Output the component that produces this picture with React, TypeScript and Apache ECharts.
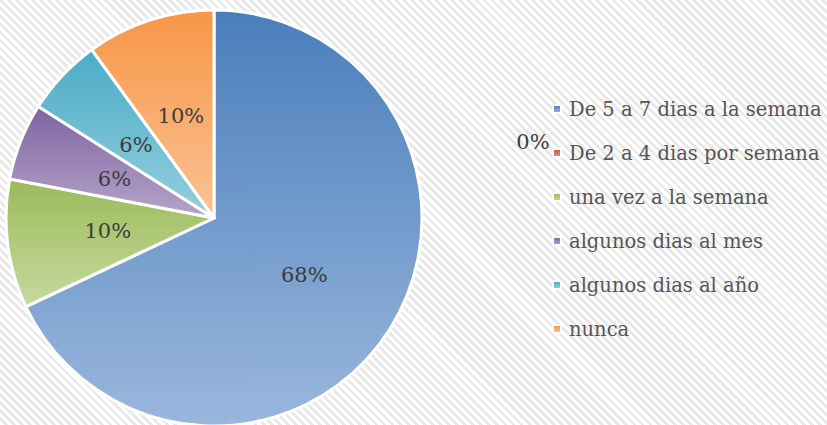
import React, { useEffect, useRef } from "react";
import * as echarts from "echarts";

const categories = [
  "De 5 a 7 dias a la semana",
  "De 2 a 4 dias por semana",
  "una vez a la semana",
  "algunos dias al mes",
  "algunos dias al año",
  "nunca",
];
const values = [34, 0, 5, 3, 3, 5];
const topColors = ["#4a7ebb", "#c0504d", "#9bbb59", "#8064a2", "#4bacc6", "#f79646"];
const bottomColors = ["#9ab7dd", "#d99694", "#c6d9a0", "#b5a5c9", "#95cfdf", "#fbc293"];

export default function App() {
  const ref = useRef<HTMLDivElement>(null);
  useEffect(() => {
    document.body.style.margin = "0";
    const chart = echarts.init(ref.current!, undefined, { renderer: "svg" });
    const fontFamily = "'DejaVu Serif', serif";
    chart.setOption({
      animation: false,
      legend: {
        orient: "vertical",
        left: 547,
        top: 94,
        itemWidth: 8,
        itemHeight: 8,
        itemGap: 24,
        icon: "rect",
        textStyle: { fontFamily, fontSize: 19.5, color: "#555555", lineHeight: 20, padding: [0, 0, 0, 3] },
        data: categories,
      },
      series: [
        {
          type: "pie",
          center: [214, 218],
          radius: [0, 208],
          startAngle: 90,
          clockwise: true,
          avoidLabelOverlap: false,
          itemStyle: { borderColor: "#ffffff", borderWidth: 3 },
          label: {
            show: true,
            position: "inside",
            formatter: (p: any) => Math.round(p.percent) + "%",
            fontFamily,
            fontSize: 21,
            color: "#3c3c3c",
          },
          labelLine: { show: false },
          labelLayout: (p: any) =>
            p.dataIndex === 1 ? { x: 533, y: 142, align: "center", verticalAlign: "middle" } : {},
          emphasis: { disabled: true },
          data: categories.map((name, i) => ({
            name,
            value: values[i],
            itemStyle: {
              color: new echarts.graphic.LinearGradient(0, 0, 0, 1, [
                { offset: 0, color: topColors[i] },
                { offset: 1, color: bottomColors[i] },
              ]),
            },
          })),
        },
      ],
    });
    return () => chart.dispose();
  }, []);
  return (
    <div
      ref={ref}
      style={{
        width: 827,
        height: 425,
        background:
          "repeating-linear-gradient(45deg, #ffffff 0px, #ffffff 3px, #e8e8e8 3px, #e8e8e8 5.7px)",
      }}
    />
  );
}
